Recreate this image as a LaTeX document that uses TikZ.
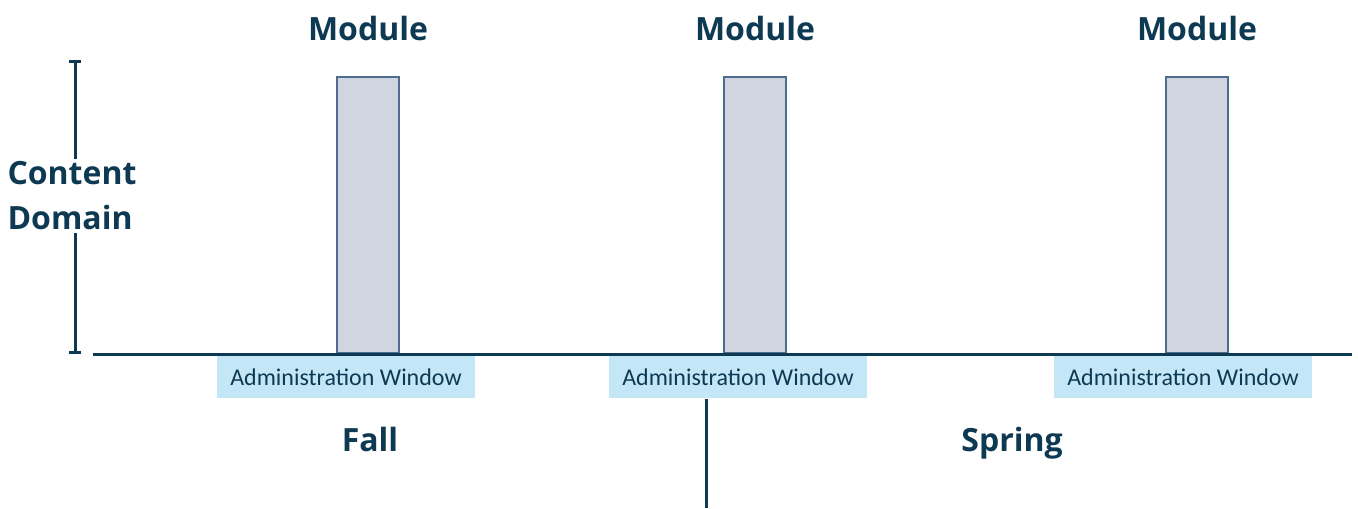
\documentclass[tikz,border=0pt]{standalone}
\usepackage{fontspec}
\setmainfont{Open Sans}
\newfontfamily\winfont{Carlito}
\usetikzlibrary{arrows.meta}
\definecolor{navy}{HTML}{0D3A52}
\definecolor{barfill}{HTML}{D0D5E0}
\definecolor{baredge}{HTML}{4E6C8E}
\definecolor{winfill}{HTML}{C4E7F8}
\tikzset{title/.style={font=\fontsize{16}{22.5}\selectfont\bfseries, text=navy, inner sep=1pt},
  modbar/.style={draw=baredge, fill=barfill, line width=1.4pt, minimum width=31pt, minimum height=138pt, anchor=south, inner sep=0pt},
  window/.style={fill=winfill, text=navy, font=\winfont\fontsize{12}{14}\selectfont, minimum width=129pt, minimum height=21pt, anchor=north, inner sep=0pt},
  axis/.style={draw=navy, line width=1.5pt}}

\begin{document}
\begin{tikzpicture}[x=0.5pt,y=-0.5pt]
		\useasboundingbox (0,0) rectangle (1358,508);
		\foreach \b/\w/\n in {368/346/a,755/738/b,1197/1183/c}{
		\node[title, anchor=base] (mod\n) at (\b,41) {Module};
		\node[modbar] (bar\n) at (\b,354.5) {};
		\node[window] (win\n) at (\w,356) {Administration Window};
		}
		\node[title, align=left] (domain) at (72,196) {Content\\Domain};
		\coordinate (ytop) at (75,60);
		\coordinate (ybot) at (75,354);
		\draw[axis, {Bar[width=6pt]}-] (ytop) -- (domain.north -| ytop);
		\draw[axis, -{Bar[width=6pt]}] (domain.south -| ytop) -- (ybot);
		\coordinate (xl) at (93,354);
		\coordinate (xr) at (1352,354);
		\draw[axis] (xl) -- (xr);
		\coordinate (split) at (706,508);
		\draw[axis] (winb.south -| split) -- (split);
		\node[title, anchor=base] (fall) at (370,451) {Fall};
		\node[title, anchor=base] (spring) at (1012,451) {Spring};
		\end{tikzpicture}
\end{document}
